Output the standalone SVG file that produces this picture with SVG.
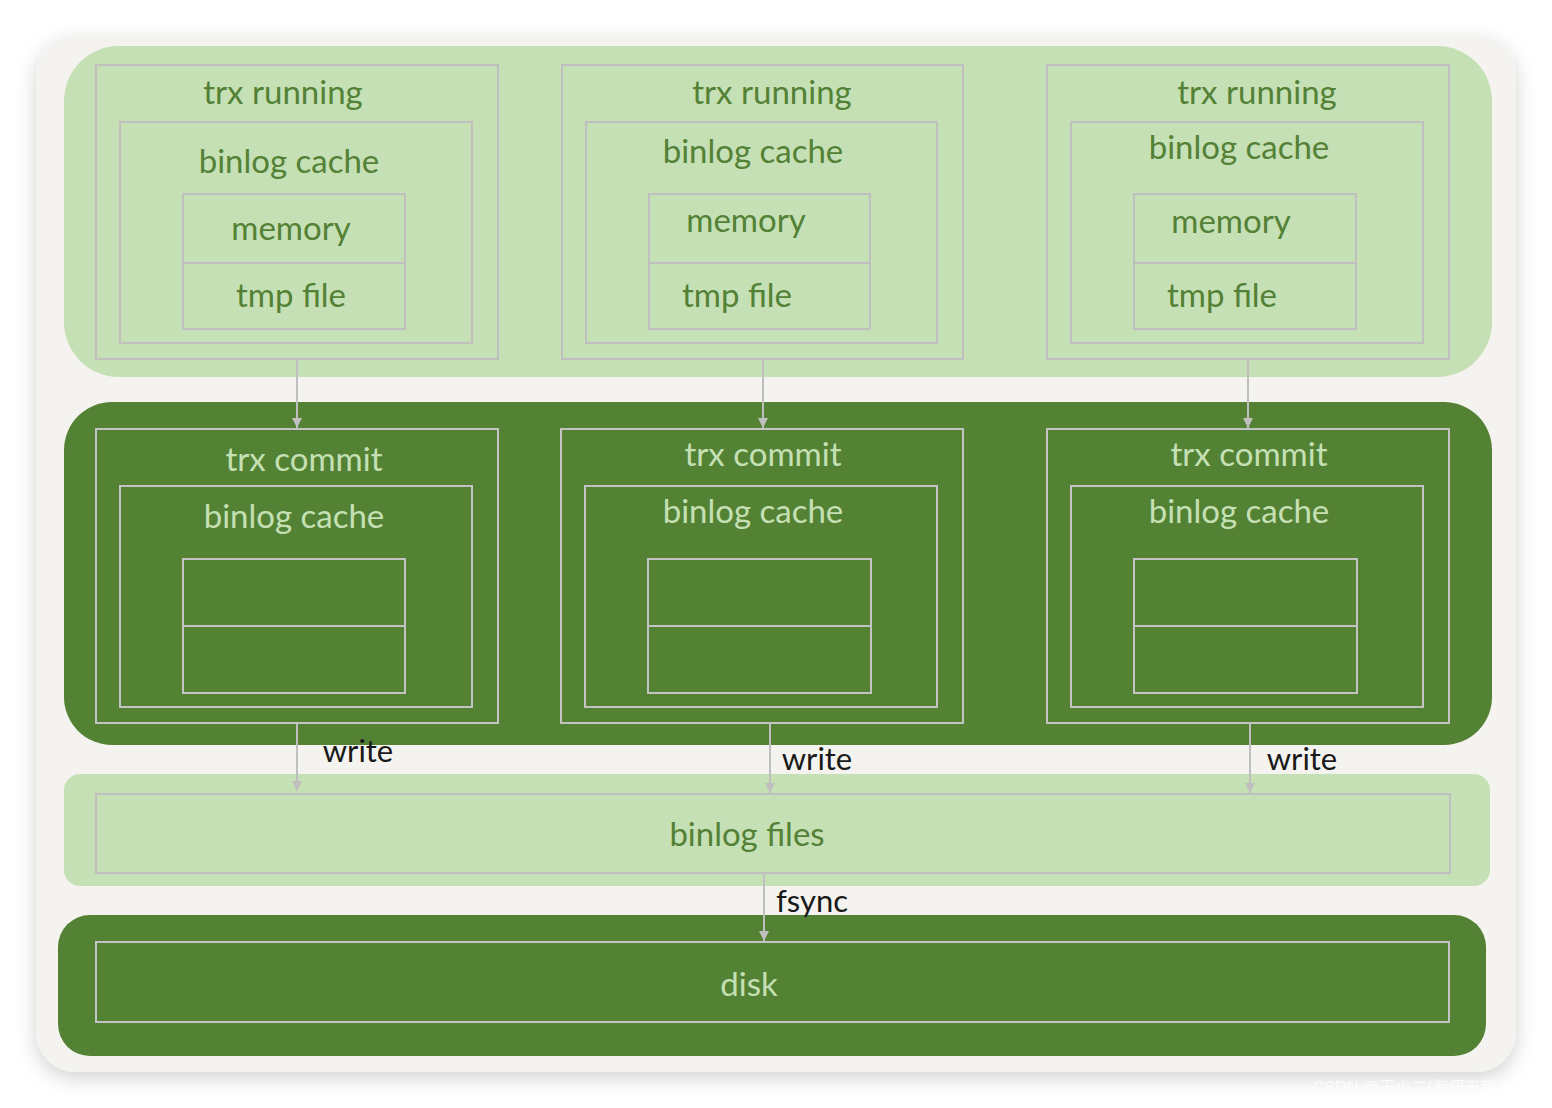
<svg xmlns="http://www.w3.org/2000/svg" width="1552" height="1108" viewBox="0 0 1552 1108">
<defs>
<filter id="sh" x="-5%" y="-5%" width="110%" height="110%">
<feDropShadow dx="0" dy="6" stdDeviation="10" flood-color="#000" flood-opacity="0.18"/>
</filter>
<marker id="ar" viewBox="0 0 10 10" refX="10" refY="5" markerWidth="10" markerHeight="10" markerUnits="userSpaceOnUse" orient="auto">
<path d="M0,0 L10,5 L0,10 z" fill="#bfbfbf"/>
</marker>
<style>
.band-l{fill:#c5e0b4}
.band-d{fill:#548235}
.bl{fill:none;stroke:#bfbfbf;stroke-width:2}
.bd{fill:none;stroke:#c3c3c3;stroke-width:2}
.tl{font-family:"Lato","Liberation Sans",sans-serif;font-size:33px;fill:#538135;text-anchor:middle}
.td{font-family:"Lato","Liberation Sans",sans-serif;font-size:33px;fill:#c5e0b4;text-anchor:middle}
.tk{font-family:"Lato","Liberation Sans",sans-serif;font-size:31px;fill:#1a1a1a;text-anchor:middle}
.cn{stroke:#bfbfbf;stroke-width:2;fill:none}
</style>
</defs>
<rect x="0" y="0" width="1552" height="1108" fill="#ffffff"/>
<rect x="36" y="36" width="1480" height="1036" rx="40" fill="#f4f3ef" filter="url(#sh)"/>

<g id="band-running"><rect x="64" y="46" width="1428" height="331" rx="55" class="band-l"/></g>
<g id="band-commit"><rect x="64" y="402" width="1428" height="343" rx="48" class="band-d"/></g>
<g id="band-files"><rect x="64" y="774" width="1426" height="112" rx="16" class="band-l"/></g>
<g id="band-disk"><rect x="58" y="915" width="1428" height="141" rx="32" class="band-d"/></g>

<g id="running-1">
<rect x="96" y="65" width="402" height="294" class="bl"/>
<text x="283" y="104" class="tl">trx running</text>
<rect x="120" y="122" width="352" height="221" class="bl"/>
<text x="289" y="173" class="tl">binlog cache</text>
<rect x="183" y="194" width="222" height="135" class="bl"/>
<line x1="183" y1="263" x2="405" y2="263" class="bl"/>
<text x="291" y="240" class="tl">memory</text>
<text x="291" y="307" class="tl">tmp file</text>
</g>
<g id="running-2">
<rect x="562" y="65" width="401" height="294" class="bl"/>
<text x="772" y="104" class="tl">trx running</text>
<rect x="586" y="122" width="351" height="221" class="bl"/>
<text x="753" y="163" class="tl">binlog cache</text>
<rect x="649" y="194" width="221" height="135" class="bl"/>
<line x1="649" y1="263" x2="870" y2="263" class="bl"/>
<text x="746" y="232" class="tl">memory</text>
<text x="737" y="307" class="tl">tmp file</text>
</g>
<g id="running-3">
<rect x="1047" y="65" width="402" height="294" class="bl"/>
<text x="1257" y="104" class="tl">trx running</text>
<rect x="1071" y="122" width="352" height="221" class="bl"/>
<text x="1239" y="159" class="tl">binlog cache</text>
<rect x="1134" y="194" width="222" height="135" class="bl"/>
<line x1="1134" y1="263" x2="1356" y2="263" class="bl"/>
<text x="1231" y="233" class="tl">memory</text>
<text x="1222" y="307" class="tl">tmp file</text>
</g>

<g id="commit-1">
<rect x="96" y="429" width="402" height="294" class="bd"/>
<text x="304" y="471" class="td">trx commit</text>
<rect x="120" y="486" width="352" height="221" class="bd"/>
<text x="294" y="528" class="td">binlog cache</text>
<rect x="183" y="559" width="222" height="134" class="bd"/>
<line x1="183" y1="626" x2="405" y2="626" class="bd"/>
</g>
<g id="commit-2">
<rect x="561" y="429" width="402" height="294" class="bd"/>
<text x="763" y="466" class="td">trx commit</text>
<rect x="585" y="486" width="352" height="221" class="bd"/>
<text x="753" y="523" class="td">binlog cache</text>
<rect x="648" y="559" width="223" height="134" class="bd"/>
<line x1="648" y1="626" x2="871" y2="626" class="bd"/>
</g>
<g id="commit-3">
<rect x="1047" y="429" width="402" height="294" class="bd"/>
<text x="1249" y="466" class="td">trx commit</text>
<rect x="1071" y="486" width="352" height="221" class="bd"/>
<text x="1239" y="523" class="td">binlog cache</text>
<rect x="1134" y="559" width="223" height="134" class="bd"/>
<line x1="1134" y1="626" x2="1357" y2="626" class="bd"/>
</g>

<g id="binlog-files">
<rect x="96" y="794" width="1354" height="79" class="bl"/>
<text x="747" y="846" class="tl">binlog files</text>
</g>
<g id="disk">
<rect x="96" y="942" width="1353" height="80" class="bd"/>
<text x="749" y="996" class="td">disk</text>
</g>

<g id="connectors">
<line x1="297" y1="360" x2="297" y2="428" class="cn" marker-end="url(#ar)"/>
<line x1="763" y1="360" x2="763" y2="428" class="cn" marker-end="url(#ar)"/>
<line x1="1248" y1="360" x2="1248" y2="428" class="cn" marker-end="url(#ar)"/>
<line x1="297" y1="724" x2="297" y2="791" class="cn" marker-end="url(#ar)"/>
<line x1="770" y1="724" x2="770" y2="793" class="cn" marker-end="url(#ar)"/>
<line x1="1250" y1="724" x2="1250" y2="793" class="cn" marker-end="url(#ar)"/>
<line x1="764" y1="874" x2="764" y2="941" class="cn" marker-end="url(#ar)"/>
<text x="358" y="762" class="tk">write</text>
<text x="817" y="770" class="tk">write</text>
<text x="1302" y="770" class="tk">write</text>
<text x="812" y="912" class="tk">fsync</text>
</g>

<text x="1313" y="1093" font-family="'Liberation Sans','Noto Sans CJK SC',sans-serif" font-size="16" fill="#ffffff" fill-opacity="0.85">CSDN @王小二(海阔天空</text>
</svg>
